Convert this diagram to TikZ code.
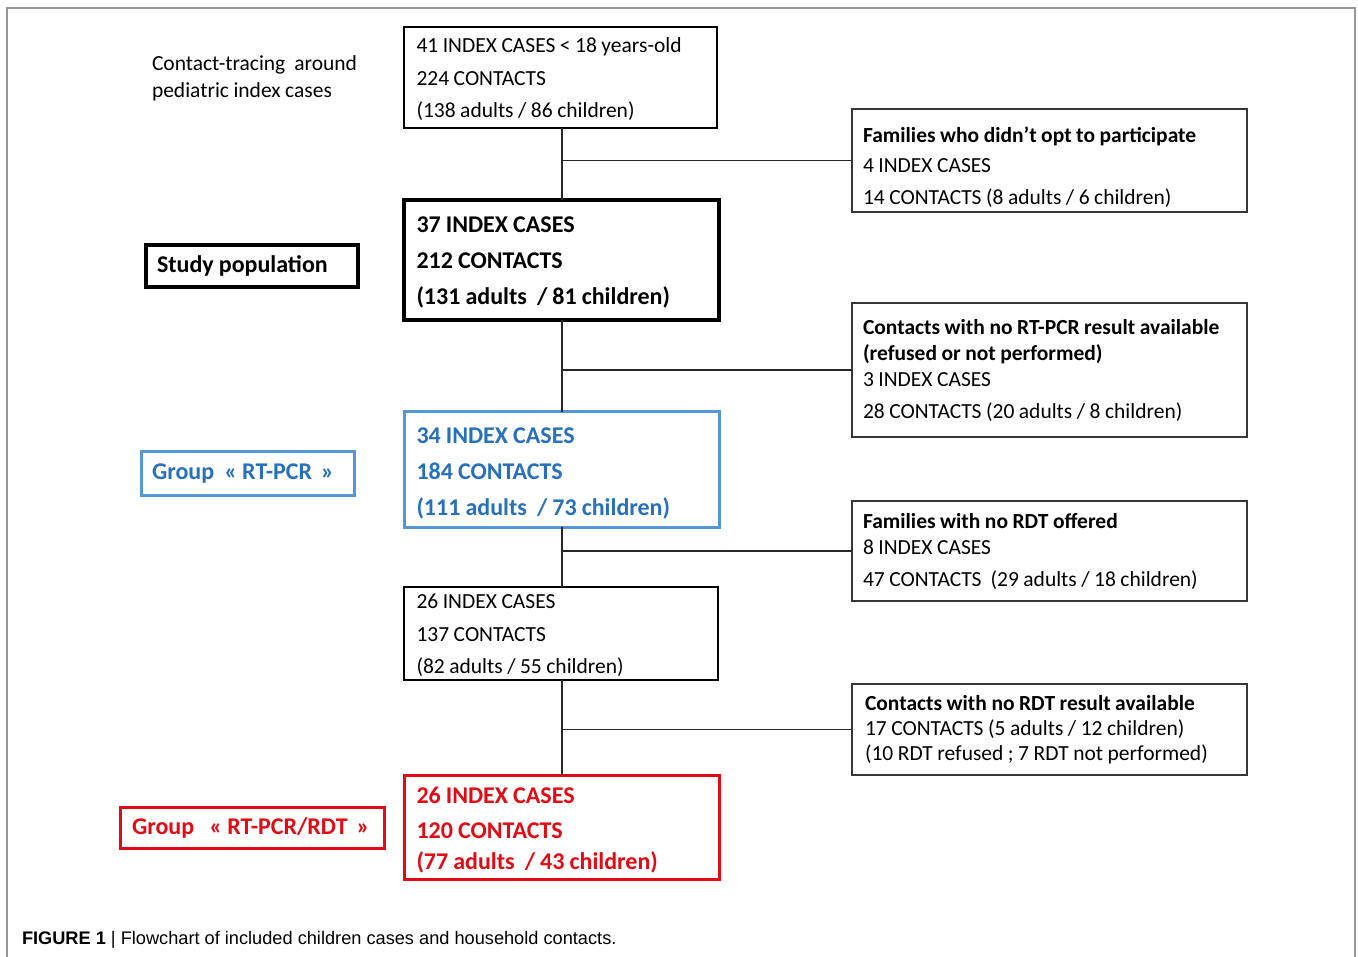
\documentclass[tikz,border=0pt]{standalone}
\usepackage{fontspec}
\setmainfont{Carlito}
\newfontfamily\capfont{Liberation Sans}
\definecolor{blueT}{RGB}{38,112,188}
\definecolor{blueB}{RGB}{85,150,212}
\definecolor{redT}{RGB}{228,10,20}
\definecolor{frameC}{RGB}{150,150,150}
\definecolor{sideC}{RGB}{55,55,55}
\definecolor{lineC}{RGB}{40,40,40}
\newcommand{\sh}[1]{\rule{0pt}{#1pt}}
\begin{document}
\begin{tikzpicture}[x=1pt,y=-1pt,
  every node/.style={inner sep=0pt, outer sep=0pt, execute at begin node={\spaceskip=0.21em\relax}},
  flowbox/.style={draw, anchor=north west, align=left, inner xsep=12.5pt, inner ysep=0pt},
  normtext/.style={font=\fontsize{21.5}{32.5}\selectfont},
  boldtext/.style={font=\fontsize{24}{36}\selectfont\bfseries},
  sidebox/.style={draw=sideC, line width=1.5pt, anchor=north west, align=left,
    inner xsep=11pt, inner ysep=0pt, minimum width=395pt, text width=373pt,
    font=\fontsize{21.5}{26}\selectfont},
  labelbox/.style={anchor=north west, align=left, inner xsep=11pt, inner ysep=0pt,
    font=\fontsize{24}{28}\selectfont\bfseries},
  conn/.style={draw=lineC, line width=1.3pt}
]
\useasboundingbox (0,0) rectangle (1358,957);
% outer frame
\draw[frameC, line width=1.2pt] (7,960) -- (7,8) -- (1355,8) -- (1355,960);
\coordinate (spine) at (562,0);

% main column
\node[flowbox, normtext, line width=2pt, minimum width=313pt, minimum height=101pt, text width=288pt] (b1) at (404,27)
  {\sh{18}41 INDEX CASES < 18 years-old\\224 CONTACTS\\(138 adults / 86 children)};
\node[flowbox, boldtext, line width=3.5pt, minimum width=315pt, minimum height=120pt, text width=290pt] (b2) at (404,200)
  {\sh{20}37 INDEX CASES\\212 CONTACTS\\(131 adults \ / 81 children)};
\node[flowbox, boldtext, draw=blueB, text=blueT, line width=3pt, minimum width=315pt, minimum height=115pt, text width=290pt] (b3) at (404,412)
  {\sh{23}34 INDEX CASES\\184 CONTACTS\\(111 adults \ / 73 children)};
\node[flowbox, normtext, line width=2.5pt, minimum width=314pt, minimum height=93pt, text width=289pt] (b4) at (404,587)
  {\sh{18}26 INDEX CASES\\137 CONTACTS\\(82 adults / 55 children)};
\node[flowbox, boldtext, draw=redT, text=redT, line width=3pt, minimum width=315pt, minimum height=104pt, text width=290pt,
  font=\fontsize{24}{35}\selectfont\bfseries] (b5) at (404,775)
  {\sh{22}26 INDEX CASES\\120 CONTACTS\\[-4pt](77 adults \ / 43 children)};

% side boxes
\node[sidebox, minimum height=103pt] (rA) at (852,109)
  {\sh{29}\textbf{Families who didn’t opt to participate}\\[4pt]4 INDEX CASES\\[6pt]14 CONTACTS (8 adults / 6 children)};
\node[sidebox, minimum height=134pt] (rB) at (852,303)
  {\textbf{Contacts with no RT-PCR result available}\\\textbf{(refused or not performed)}\\3 INDEX CASES\\[6pt]28 CONTACTS (20 adults / 8 children)};
\node[sidebox, minimum height=100pt] (rC) at (852,501)
  {\textbf{Families with no RDT offered}\\8 INDEX CASES\\[6pt]47 CONTACTS \ (29 adults / 18 children)};
\node[sidebox, minimum height=91pt, inner xsep=13pt, text width=369pt] (rD) at (852,684)
  {\textbf{Contacts with no RDT result available}\\[-1pt]17 CONTACTS (5 adults / 12 children)\\[-1pt](10 RDT refused ; 7 RDT not performed)};

% left labels
\node[anchor=north west, align=left, font=\fontsize{21.5}{27}\selectfont] (ct) at (152,56)
  {Contact-tracing \ around\\pediatric index cases};
\node[labelbox, draw, line width=3.5pt, minimum width=212pt, minimum height=42pt, text width=190pt] (sp) at (146,245)
  {Study population};
\node[labelbox, draw=blueB, text=blueT, line width=3pt, minimum width=213pt, minimum height=43pt, text width=191pt] (g1) at (141,452)
  {Group \ « RT-PCR\, »};
\node[labelbox, draw=redT, text=redT, line width=3pt, minimum width=264pt, minimum height=41pt, inner xsep=12pt, text width=240pt] (g2) at (120,807)
  {Group \ \ « RT-PCR/RDT \,»};

% connectors
\draw[conn] (b1.south -| spine) -- (b2.north -| spine);
\draw[conn] (b2.south -| spine) -- (b3.north -| spine);
\draw[conn] (b3.south -| spine) -- (b4.north -| spine);
\draw[conn] (b4.south -| spine) -- (b5.north -| spine);
\draw[conn] (rA.west) -- (rA.west -| spine);
\draw[conn] (rB.west) -- (rB.west -| spine);
\draw[conn] (rC.west) -- (rC.west -| spine);
\draw[conn] (rD.west) -- (rD.west -| spine);

% caption
\node[anchor=base west, font=\capfont\fontsize{18.2}{20}\selectfont] (cap) at (22,944)
  {\spaceskip=0pt\relax\textbf{FIGURE 1} | Flowchart of included children cases and household contacts.};
\end{tikzpicture}
\end{document}
